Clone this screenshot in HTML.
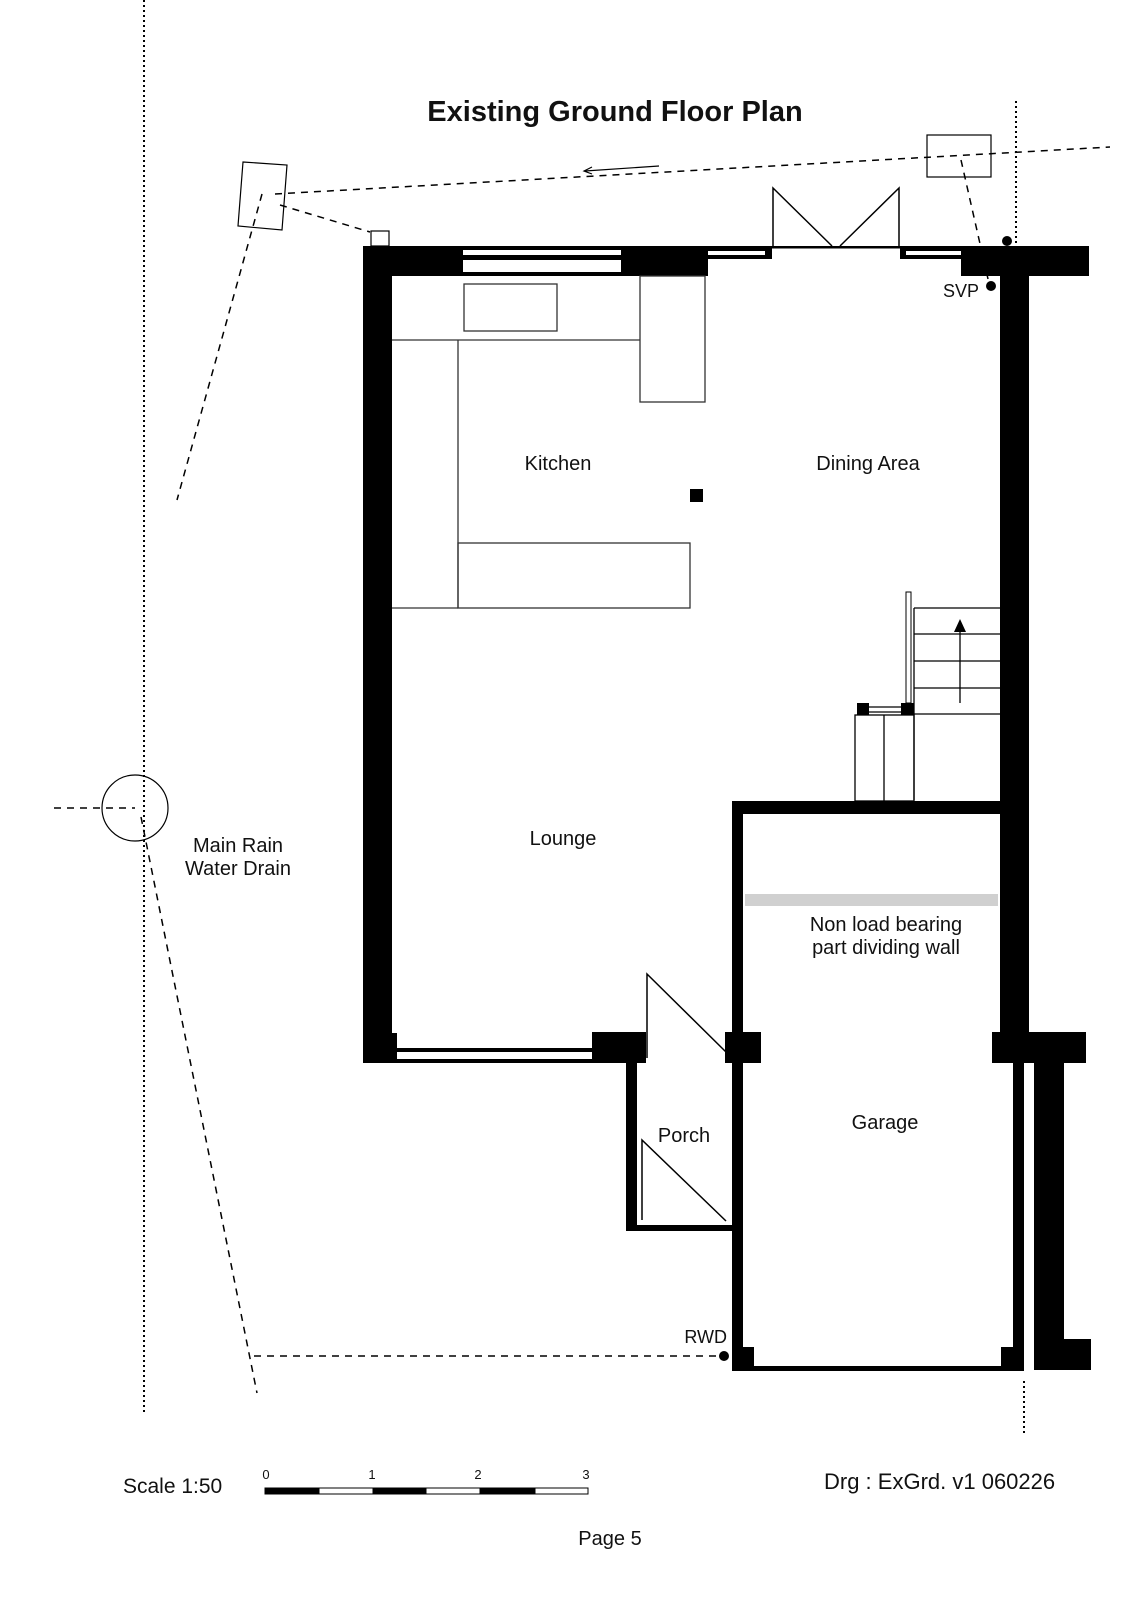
<!DOCTYPE html>
<html><head><meta charset="utf-8"><style>
html,body{margin:0;padding:0;background:#fff;}
svg{display:block;}
text{font-family:"Liberation Sans",Arial,sans-serif;fill:#111;}
</style></head><body>
<svg width="1132" height="1600" viewBox="0 0 1132 1600" xmlns="http://www.w3.org/2000/svg">
<rect width="1132" height="1600" fill="#fff"/>
<text x="615" y="121" font-size="29" font-weight="bold" text-anchor="middle">Existing Ground Floor Plan</text>

<g stroke="#000" stroke-width="2" stroke-dasharray="2,3" fill="none">
<line x1="144" y1="0" x2="144" y2="1414"/>
<line x1="1016" y1="101" x2="1016" y2="246"/>
<line x1="1024" y1="1381" x2="1024" y2="1435"/>
</g>

<g stroke="#000" stroke-width="1.5" stroke-dasharray="7,6" fill="none">
<line x1="275" y1="194" x2="1110" y2="147"/>
<line x1="280" y1="205" x2="370" y2="232"/>
<line x1="262" y1="194" x2="177" y2="500"/>
<line x1="961" y1="160" x2="988" y2="279"/>
<line x1="54" y1="808" x2="135" y2="808"/>
<line x1="141" y1="817" x2="257" y2="1393"/>
<line x1="254" y1="1356" x2="718" y2="1356"/>
</g>
<polygon points="243,162 287,165 282,230 238,226" fill="none" stroke="#000" stroke-width="1.2"/>
<rect x="371" y="231" width="18" height="15" fill="#fff" stroke="#000" stroke-width="1.2"/>
<rect x="927" y="135" width="64" height="42" fill="none" stroke="#000" stroke-width="1.2"/>
<circle cx="135" cy="808" r="33" fill="none" stroke="#000" stroke-width="1.2"/>
<line x1="659" y1="166" x2="585" y2="171" stroke="#000" stroke-width="1.2"/>
<polyline points="592,167 584,171 592,174" fill="none" stroke="#000" stroke-width="1.2"/>
<circle cx="1007" cy="241" r="5" fill="#000"/>
<circle cx="991" cy="286" r="5" fill="#000"/>
<circle cx="724" cy="1356" r="5" fill="#000"/>

<rect x="363" y="246" width="345" height="30" fill="#000"/>
<rect x="463" y="250" width="158" height="5" fill="#fff"/>
<rect x="463" y="260" width="158" height="12" fill="#fff"/>
<rect x="708" y="246" width="64" height="13" fill="#000"/>
<rect x="708" y="251" width="57" height="4" fill="#fff"/>
<rect x="772" y="246" width="128" height="2.5" fill="#000"/>
<rect x="900" y="246" width="61" height="13" fill="#000"/>
<rect x="906" y="251" width="55" height="4" fill="#fff"/>
<rect x="961" y="246" width="128" height="30" fill="#000"/>
<g stroke="#000" stroke-width="1.5" fill="none">
<polyline points="773,246 773,188 832,246"/>
<polyline points="899,246 899,188 840,246"/>
</g>
<rect x="363" y="246" width="29" height="817" fill="#000"/>
<rect x="1000" y="246" width="29" height="790" fill="#000"/>

<g stroke="#333" stroke-width="1.3" fill="none">
<line x1="392" y1="340" x2="640" y2="340"/>
<rect x="464" y="284" width="93" height="47"/>
<rect x="640" y="276" width="65" height="126"/>
<line x1="458" y1="340" x2="458" y2="608"/>
<line x1="392" y1="608" x2="458" y2="608"/>
<rect x="458" y="543" width="232" height="65"/>
</g>
<rect x="690" y="489" width="13" height="13" fill="#000"/>

<rect x="906" y="592" width="5" height="111" fill="#fff" stroke="#000" stroke-width="1"/>
<g stroke="#000" stroke-width="1.3" fill="none">
<line x1="914" y1="608" x2="914" y2="800"/>
<line x1="914" y1="608" x2="1000" y2="608"/>
<line x1="914" y1="634" x2="1000" y2="634"/>
<line x1="914" y1="661" x2="1000" y2="661"/>
<line x1="914" y1="688" x2="1000" y2="688"/>
<line x1="914" y1="714" x2="1000" y2="714"/>
<line x1="960" y1="703" x2="960" y2="628"/>
<rect x="855" y="715" width="59" height="86"/>
<line x1="884" y1="715" x2="884" y2="801"/>
<line x1="869" y1="707" x2="901" y2="707"/>
<line x1="869" y1="712" x2="901" y2="712"/>
</g>
<polygon points="960,619 954,632 966,632" fill="#000"/>
<rect x="857" y="703" width="12" height="12" fill="#000"/>
<rect x="901" y="703" width="13" height="12" fill="#000"/>

<rect x="732" y="801" width="268" height="13" fill="#000"/>
<rect x="732" y="801" width="11" height="569" fill="#000"/>
<rect x="745" y="894" width="253" height="12" fill="#d0d0d0"/>

<rect x="363" y="1048" width="283" height="15" fill="#000"/>
<rect x="397" y="1052" width="195" height="7" fill="#fff"/>
<rect x="363" y="1033" width="34" height="30" fill="#000"/>
<rect x="592" y="1032" width="54" height="31" fill="#000"/>
<g stroke="#000" stroke-width="1.5" fill="none">
<polyline points="647,1058 647,974 726,1052"/>
<polyline points="642,1220 642,1140 726,1221"/>
</g>
<rect x="626" y="1063" width="11" height="168" fill="#000"/>
<rect x="626" y="1225" width="108" height="6" fill="#000"/>
<rect x="725" y="1032" width="36" height="31" fill="#000"/>
<rect x="992" y="1032" width="94" height="31" fill="#000"/>
<rect x="1013" y="1063" width="11" height="307" fill="#000"/>
<rect x="732" y="1366" width="292" height="5" fill="#000"/>
<rect x="732" y="1347" width="22" height="24" fill="#000"/>
<rect x="1001" y="1347" width="23" height="24" fill="#000"/>
<rect x="1034" y="1063" width="30" height="307" fill="#000"/>
<rect x="1034" y="1339" width="57" height="31" fill="#000"/>

<g font-size="20" text-anchor="middle">
<text x="558" y="470">Kitchen</text>
<text x="868" y="470">Dining Area</text>
<text x="563" y="845">Lounge</text>
<text x="886" y="931">Non load bearing</text>
<text x="886" y="954">part dividing wall</text>
<text x="885" y="1129">Garage</text>
<text x="684" y="1142">Porch</text>
<text x="238" y="852">Main Rain</text>
<text x="238" y="875">Water Drain</text>
</g>
<text x="979" y="297" font-size="18" text-anchor="end">SVP</text>
<text x="727" y="1343" font-size="18" text-anchor="end">RWD</text>

<text x="123" y="1493" font-size="21">Scale 1:50</text>
<g stroke="#000" stroke-width="1">
<rect x="265" y="1488" width="54" height="6" fill="#000"/>
<rect x="319" y="1488" width="54" height="6" fill="#fff"/>
<rect x="373" y="1488" width="53" height="6" fill="#000"/>
<rect x="426" y="1488" width="54" height="6" fill="#fff"/>
<rect x="480" y="1488" width="55" height="6" fill="#000"/>
<rect x="535" y="1488" width="53" height="6" fill="#fff"/>
</g>
<g font-size="13" text-anchor="middle">
<text x="266" y="1479">0</text>
<text x="372" y="1479">1</text>
<text x="478" y="1479">2</text>
<text x="586" y="1479">3</text>
</g>
<text x="824" y="1489" font-size="22">Drg : ExGrd. v1 060226</text>
<text x="610" y="1545" font-size="20" text-anchor="middle">Page 5</text>
</svg>
</body></html>
